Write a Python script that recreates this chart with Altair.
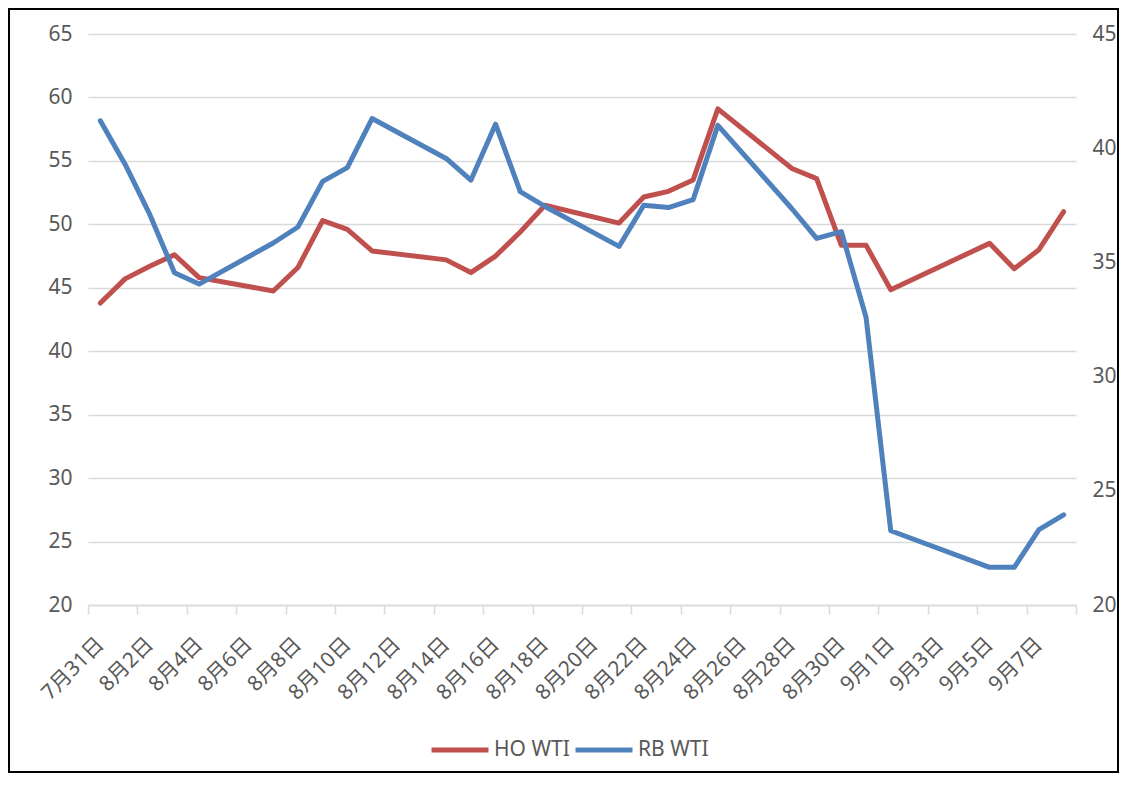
import json
import altair as alt
import pandas as pd

# ---- data ----
DATES = ["2017-07-31", "2017-08-01", "2017-08-02", "2017-08-03", "2017-08-04",
         "2017-08-07", "2017-08-08", "2017-08-09", "2017-08-10", "2017-08-11",
         "2017-08-14", "2017-08-15", "2017-08-16", "2017-08-17", "2017-08-18",
         "2017-08-21", "2017-08-22", "2017-08-23", "2017-08-24", "2017-08-25",
         "2017-08-28", "2017-08-29", "2017-08-30", "2017-08-31", "2017-09-01",
         "2017-09-05", "2017-09-06", "2017-09-07", "2017-09-08"]
HO_WTI = [43.8, 45.7, 46.7, 47.6, 45.8,
          44.75, 46.6, 50.3, 49.6, 47.9,
          47.2, 46.2, 47.5, 49.4, 51.5,
          50.1, 52.15, 52.6, 53.5, 59.1,
          54.4, 53.6, 48.35, 48.35, 44.85,
          48.5, 46.5, 48.0, 51.0]
RB_WTI = [41.2, 39.3, 37.1, 34.55, 34.05,
          35.85, 36.55, 38.55, 39.15, 41.3,
          39.55, 38.6, 41.05, 38.1, 37.45,
          35.7, 37.5, 37.4, 37.75, 41.0,
          37.35, 36.05, 36.35, 32.6, 23.25,
          21.65, 21.65, 23.3, 23.95]
SERIES = ["HO WTI", "RB WTI"]
COLORS = ["#C0504D", "#4F81BD"]
TICK_LABELS = ["7月31日", "8月2日", "8月4日", "8月6日", "8月8日", "8月10日",
               "8月12日", "8月14日", "8月16日", "8月18日", "8月20日", "8月22日",
               "8月24日", "8月26日", "8月28日", "8月30日", "9月1日", "9月3日",
               "9月5日", "9月7日"]
LEFT_TICKS = [20, 25, 30, 35, 40, 45, 50, 55, 60, 65]
RIGHT_TICKS = [20, 25, 30, 35, 40, 45]

START = pd.Timestamp("2017-07-31")
N_DAYS = 40
day = [(pd.Timestamp(d) - START).days for d in DATES]

df = pd.concat([
    pd.DataFrame({"day": day, "value": HO_WTI, "series": SERIES[0]}),
    pd.DataFrame({"day": day, "value": RB_WTI, "series": SERIES[1]}),
])

FONT = "Noto Sans, Noto Sans CJK SC"
GREY_TXT = "#595959"
GRID = "#D9D9D9"

W, H = 988, 571
PAD = {"left": 80, "top": 26, "right": 43, "bottom": 168}

x_vals = [-0.5 + 2 * k for k in range(N_DAYS // 2 + 1)]
label_expr = ("datum.value < %d ? %s[round((datum.value + 0.5) / 2)] : ''"
              % (N_DAYS - 1, json.dumps(TICK_LABELS, ensure_ascii=False)))

x_enc = alt.X(
    "day:Q",
    scale=alt.Scale(domain=[-0.5, N_DAYS - 0.5], nice=False, zero=False),
    axis=alt.Axis(
        values=x_vals, title=None, grid=False,
        labelExpr=label_expr, labelOffset=W / N_DAYS / 2,
        labelAngle=-45, labelAlign="right", labelBaseline="middle",
        labelPadding=27, labelFlush=False, labelOverlap=False, labelBound=False,
        labelFontSize=21, labelColor=GREY_TXT, labelFont=FONT,
        domainColor=GRID, domainWidth=1.5,
        ticks=True, tickColor=GRID, tickWidth=1.5, tickSize=9,
    ),
)

color_enc = alt.Color(
    "series:N",
    scale=alt.Scale(domain=SERIES, range=COLORS),
    legend=alt.Legend(
        title=None, orient="none", legendX=341, legendY=685,
        direction="horizontal", symbolType="stroke", symbolSize=3249,
        symbolStrokeWidth=5, labelFontSize=21, labelColor=GREY_TXT,
        labelFont=FONT, labelOffset=3, columnPadding=-5,
    ),
)

base = alt.Chart(df)

ho = base.transform_filter(alt.datum.series == SERIES[0]).mark_line(
    strokeWidth=5, strokeCap="round", strokeJoin="round"
).encode(
    x=x_enc,
    y=alt.Y("value:Q",
            scale=alt.Scale(domain=[20, 65], nice=False, zero=False),
            axis=alt.Axis(values=LEFT_TICKS, title=None, orient="left",
                          domain=False, ticks=False, grid=True,
                          gridColor=GRID, gridWidth=1.5,
                          labelPadding=16, labelFontSize=21,
                          labelColor=GREY_TXT, labelFont=FONT)),
    color=color_enc,
)

rb = base.transform_filter(alt.datum.series == SERIES[1]).mark_line(
    strokeWidth=5, strokeCap="round", strokeJoin="round"
).encode(
    x=x_enc,
    y=alt.Y("value:Q",
            scale=alt.Scale(domain=[20, 45], nice=False, zero=False),
            axis=alt.Axis(values=RIGHT_TICKS, title=None, orient="right",
                          domain=False, ticks=False, grid=False,
                          labelPadding=16, labelFontSize=21,
                          labelColor=GREY_TXT, labelFont=FONT)),
    color=color_enc,
)

frame = alt.Chart(pd.DataFrame({"f": [0]})).mark_rect(
    filled=False, stroke="black", strokeWidth=2
).encode(
    x=alt.value(-PAD["left"] + 1), x2=alt.value(W + PAD["right"] - 1),
    y=alt.value(-PAD["top"] + 1), y2=alt.value(H + PAD["bottom"] - 1),
)

chart = alt.layer(ho, rb, frame).resolve_scale(y="independent").properties(
    width=W, height=H,
    padding=PAD,
    autosize=alt.AutoSizeParams(type="none"),
    background="white",
).configure_view(stroke=None)

chart.save("out.html", embed_options={"renderer": "svg", "actions": False})
